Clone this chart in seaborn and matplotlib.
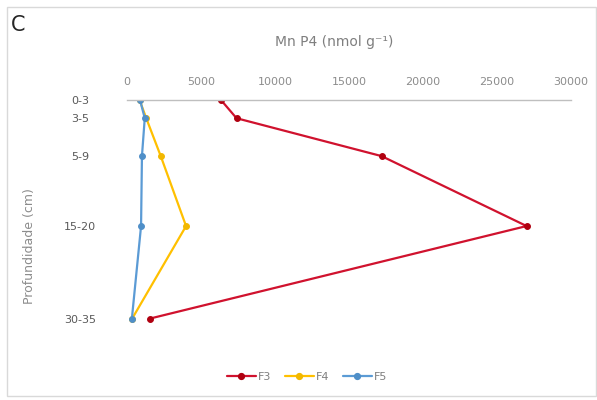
import matplotlib
matplotlib.use("Agg")
import matplotlib.pyplot as plt
import seaborn as sns
import pandas as pd
from matplotlib.patches import Rectangle
from matplotlib.lines import Line2D

# ---- data ----
depth_labels = ["0-3", "3-5", "5-9", "15-20", "30-35"]
depth_pos = [0, 2.5, 7.7, 17.3, 30.0]
f3 = [6350, 7400, 17200, 27000, 1550]
f4 = [850, 1300, 2280, 3990, 350]
f5 = [880, 1200, 1010, 950, 330]
series_names = ["F3", "F4", "F5"]
x_ticks = [0, 5000, 10000, 15000, 20000, 25000, 30000]
colors = {"F3": "#D0122E", "F4": "#FFC000", "F5": "#5B9BD5"}
marker_colors = {"F3": "#B00010", "F4": "#F2B800", "F5": "#4F8FC8"}

rows = []
for name, vals in zip(series_names, [f3, f4, f5]):
    for d, v in zip(depth_pos, vals):
        rows.append({"serie": name, "depth": d, "value": v})
df = pd.DataFrame(rows)

sns.set_style("white")
plt.rcParams["font.family"] = ["DejaVu Sans"]

fig = plt.figure(figsize=(5.97, 4.0), dpi=100)
ax = fig.add_axes([127 / 597, 1 - 355 / 400, 444 / 597, 255 / 400])

for name in series_names:
    sub = df[df["serie"] == name]
    sns.lineplot(data=sub, x="value", y="depth", sort=False, ax=ax,
                 color=colors[name], linewidth=1.6, marker="o", markersize=4.2,
                 markerfacecolor=marker_colors[name], markeredgecolor=marker_colors[name],
                 legend=False)

ax.set_xlim(0, 30000)
ax.set_ylim(35, 0)
ax.xaxis.tick_top()
ax.xaxis.set_label_position("top")
ax.set_xticks(x_ticks)
ax.set_xticklabels([str(t) for t in x_ticks])
ax.set_yticks(depth_pos)
ax.set_yticklabels(depth_labels)
ax.tick_params(axis="x", length=0, pad=9.5, labelsize=8, labelcolor="#8C8C8C")
ax.tick_params(axis="y", length=0, pad=34, labelsize=8, labelcolor="#595959")
for lab in ax.get_yticklabels():
    lab.set_horizontalalignment("center")

for s in ["left", "right", "bottom"]:
    ax.spines[s].set_visible(False)
ax.spines["top"].set_color("#BFBFBF")
ax.spines["top"].set_linewidth(1.0)
ax.grid(False)

ax.set_xlabel("Mn P4 (nmol g⁻¹)", fontsize=10, color="#7F7F7F")
ax.xaxis.set_label_coords((334 - 127) / 444, (355 - 42) / 255)
ax.xaxis.label.set_verticalalignment("center")
ax.set_ylabel("Profundidade (cm)", fontsize=9, color="#8C8C8C")
ax.yaxis.set_label_coords((30 - 127) / 444, (355 - 246) / 255)
ax.yaxis.label.set_verticalalignment("center")

# panel letter
fig.text(18 / 597, 1 - 25 / 400, "C", fontsize=15, color="#262626", ha="center", va="center")

# border
fig.add_artist(Rectangle((7 / 597, 4 / 400), 589 / 597, 389 / 400, transform=fig.transFigure,
                         fill=False, edgecolor="#D9D9D9", linewidth=1.0))

handles = [Line2D([0], [0], color=colors[n], linewidth=1.6, marker="o", markersize=4.2,
                  markerfacecolor=marker_colors[n], markeredgecolor=marker_colors[n])
           for n in series_names]
leg = fig.legend(handles, series_names, loc="center", bbox_to_anchor=(307 / 597, 1 - 377 / 400),
                 ncol=3, frameon=False, fontsize=8, handlelength=2.6, columnspacing=1.2,
                 handletextpad=0.2)
for t in leg.get_texts():
    t.set_color("#7F7F7F")

fig.savefig("out.png", dpi=100)
